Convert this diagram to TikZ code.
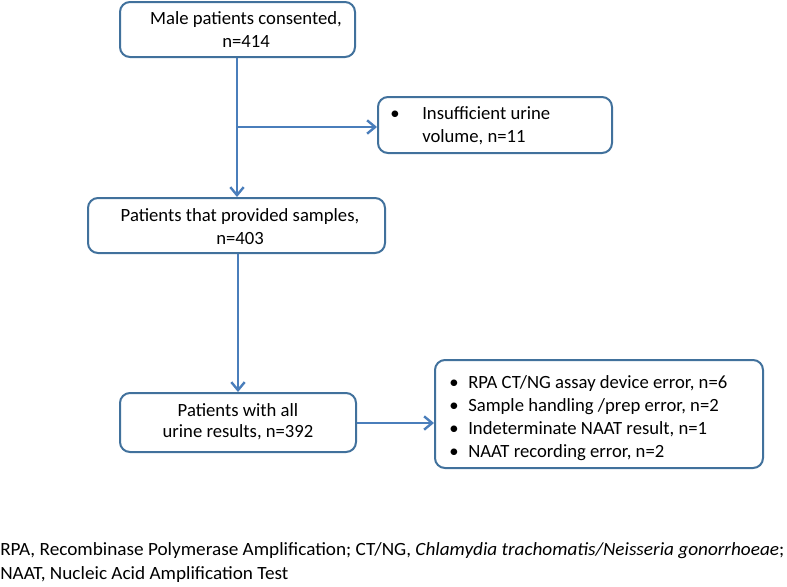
\documentclass[tikz,border=0pt]{standalone}
\usepackage{fontspec}
\setmainfont{Carlito}
\usetikzlibrary{arrows.meta}
\definecolor{boxblue}{RGB}{65,113,156}
\definecolor{arrowblue}{RGB}{74,126,187}
\newsavebox\fnbox
\newdimen\fnw
\begin{document}
\sbox\fnbox{\fontsize{14}{18}\selectfont RPA, Recombinase Polymerase Amplification; CT/NG, \textit{Chlamydia trachomatis/Neisseria gonorrhoeae};}
\fnw=\wd\fnbox
\pgfmathsetmacro\fns{588/\fnw}
\begin{tikzpicture}[x=0.75pt,y=-0.75pt,
  box/.style={draw=boxblue, line width=1.5pt, rounded corners=7.5pt, fill=white, inner sep=0pt},
  conn/.style={draw=arrowblue, line width=1.8pt},
  arr/.style={conn, -{Straight Barb[length=6pt, width=10pt]}},
  txt/.style={font=\fontsize{14}{17.25}\selectfont, align=center, inner sep=0pt},
  btxt/.style={font=\fontsize{14}{17.25}\selectfont, inner sep=0pt, anchor=west}]
\useasboundingbox (0,0) rectangle (787,586);
% boxes
\node[box, minimum width=235*0.75pt, minimum height=55*0.75pt] (b1) at (237.5,29.5) {};
\node[txt] (b1t) at (246,30) {Male patients consented,\\n=414};
\node[box, minimum width=234*0.75pt, minimum height=56*0.75pt] (b2) at (495,125) {};
\node[btxt] (b2t) at (390,126.5) {\begin{tabular}{@{}p{24pt}@{}l@{}}\textbullet & Insufficient urine\\ & volume, n=11\end{tabular}};
\node[box, minimum width=297*0.75pt, minimum height=55*0.75pt] (b3) at (236.5,225.5) {};
\node[txt] (b3t) at (240,226.5) {Patients that provided samples,\\n=403};
\node[box, minimum width=236*0.75pt, minimum height=59*0.75pt] (b4) at (238,422.5) {};
\node[txt, font=\fontsize{14}{16}\selectfont] (b4t) at (238,422) {Patients with all\\urine results, n=392};
\node[box, minimum width=328*0.75pt, minimum height=108*0.75pt] (b5) at (599,414) {};
\node[btxt] (b5t) at (449,418) {\begin{tabular}{@{}p{14.25pt}@{}l@{}}\textbullet & RPA CT/NG assay device error, n=6\\\textbullet & Sample handling /prep error, n=2\\\textbullet & Indeterminate NAAT result, n=1\\\textbullet & NAAT recording error, n=2\end{tabular}};
% connectors
\draw[arr] (b1.south -| 237,0) -- (b3.north -| 237,0);
\coordinate (br) at (237,127);
\draw[arr] (br) -- (br -| b2.west);
\draw[arr] (b3.south -| 238,0) -- (b4.north -| 238,0);
\draw[arr] (b4.east |- 0,423) -- (b5.west |- 0,423);
% footnote
\node[anchor=west, inner sep=0pt, font=\fontsize{14}{18}\selectfont] (fn) at (0,563) {\scalebox{\fns}[1]{\begin{tabular}{@{}l@{}}RPA, Recombinase Polymerase Amplification; CT/NG, \textit{Chlamydia trachomatis/Neisseria gonorrhoeae};\\NAAT, Nucleic Acid Amplification Test\end{tabular}}};
\end{tikzpicture}
\end{document}
